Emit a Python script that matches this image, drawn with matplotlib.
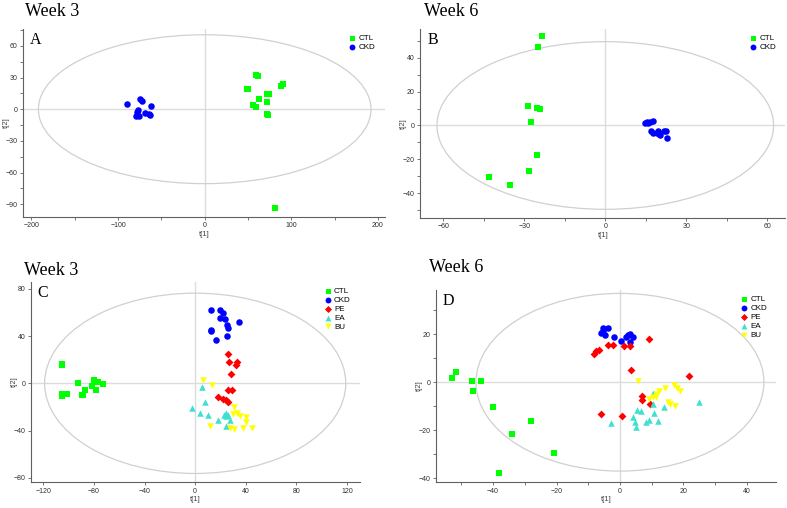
import numpy as np
import matplotlib.pyplot as plt
from matplotlib.patches import Ellipse
from matplotlib.ticker import MultipleLocator

plt.rcParams['font.family'] = ['Liberation Sans', 'DejaVu Sans']

# Score values
# Panel A: week 3, CTL vs CKD
a_ctl_x = [59.8, 61.0, 50.2, 49.0, 62.2, 56.0, 59.0, 72.2, 73.7, 71.4, 71.4, 72.6, 88.0, 90.0, 81.5]
a_ctl_y = [32.2, 31.3, 19.6, 19.3, 9.5, 4.4, 2.2, 14.2, 14.2, 6.9, -4.7, -5.7, 22.4, 23.7, -93.5]
a_ckd_x = [-89.6, -74.5, -72.2, -61.8, -76.8, -77.6, -79.2, -75.3, -68.7, -62.9, -64.5]
a_ckd_y = [4.7, 9.2, 7.9, 2.8, -0.3, -2.8, -6.0, -6.9, -3.5, -5.4, -5.0]

# Panel B: week 6, CTL vs CKD
b_ctl_x = [-23.5, -24.9, -28.6, -25.2, -24.2, -27.4, -25.3, -28.4, -43.1, -35.4]
b_ctl_y = [52.6, 46.3, 11.4, 10.2, 9.7, 1.8, -17.7, -26.6, -30.3, -34.9]
b_ckd_x = [14.7, 15.6, 16.6, 17.6, 16.0, 16.9, 17.6, 19.7, 20.0, 20.3, 21.8, 22.5, 22.8, 19.0]
b_ckd_y = [1.6, 2.0, 2.2, 2.8, 1.2, -3.3, -4.3, -3.3, -5.1, -5.9, -3.2, -3.5, -7.3, -4.3]

# Panel C: week 3, five groups
c_ctl_x = [-105.2, -105.0, -92.3, -79.9, -76.5, -72.6, -81.8, -78.6, -87.0, -88.3, -105.2, -101.5, -105.6, -89.6]
c_ctl_y = [16.4, 15.6, 0.3, 2.8, 1.1, -0.8, -2.5, -5.9, -5.4, -9.9, -9.0, -9.3, -10.4, -10.2]
c_ckd_x = [12.4, 19.7, 21.6, 20.0, 23.4, 25.0, 26.3, 35.0, 12.6, 12.6, 16.8, 25.0]
c_ckd_y = [61.8, 62.4, 59.6, 55.1, 54.5, 49.7, 46.9, 51.9, 45.5, 44.0, 37.0, 39.8]
c_pe_x = [26.3, 26.8, 33.1, 32.6, 28.1, 26.3, 29.4, 18.4, 21.6, 24.2, 26.0]
c_pe_y = [25.1, 18.1, 17.8, 15.5, 7.6, -5.6, -5.6, -11.3, -13.0, -14.4, -16.1]
c_ea_x = [5.0, -2.4, 3.9, 7.6, 10.3, 18.1, 24.7, 26.0, 24.2, 27.3, 24.7, 22.6]
c_ea_y = [-2.8, -20.6, -24.8, -15.5, -27.1, -30.8, -25.1, -26.5, -27.7, -31.3, -36.4, -26.5]
c_bu_x = [6.3, 13.1, 11.6, 31.0, 30.0, 33.1, 35.8, 40.5, 40.5, 27.9, 30.8, 37.8, 44.7]
c_bu_y = [2.5, -1.4, -36.4, -20.3, -25.7, -25.1, -27.9, -28.5, -32.7, -38.1, -38.4, -38.1, -38.1]

# Panel D: week 6, five groups
d_ctl_x = [-53.1, -51.7, -46.7, -43.8, -46.4, -40.0, -33.9, -28.2, -20.7, -38.0]
d_ctl_y = [1.8, 4.4, 0.7, 0.4, -3.6, -10.2, -21.5, -16.0, -29.7, -38.0]
d_ckd_x = [-5.5, -3.9, -6.0, -4.6, -1.9, 0.3, 2.4, 3.2, 4.0, 3.2, -5.5, 1.9]
d_ckd_y = [22.6, 22.6, 20.5, 19.8, 19.1, 17.3, 19.8, 20.2, 19.1, 16.8, 21.5, 19.1]
d_pe_x = [9.3, -8.1, -7.4, -6.7, -3.7, -2.3, 1.2, 3.2, 3.4, 21.7, 6.9, 6.9, 9.6, -6.1, 0.8]
d_pe_y = [18.0, 12.0, 12.9, 13.3, 15.5, 15.7, 15.3, 15.0, 5.0, 2.5, -5.9, -7.3, -9.2, -13.1, -14.2]
d_ea_x = [-2.8, 4.0, 4.8, 5.0, 5.5, 6.6, 8.2, 9.3, 10.8, 11.9, 10.3, 10.3, 14.0, 25.0]
d_ea_y = [-16.9, -14.6, -16.7, -18.7, -11.4, -11.8, -16.7, -15.6, -12.9, -16.2, -4.3, -9.1, -10.2, -8.1]
d_bu_x = [5.8, 9.3, 10.5, 11.4, 12.2, 14.1, 17.1, 17.9, 18.8, 15.1, 15.8, 17.5, 11.4]
d_bu_y = [0.7, -7.2, -6.3, -6.3, -3.6, -2.2, -1.1, -2.2, -3.6, -8.4, -9.1, -10.0, -5.0]

colors = {'CTL': '#00ff00', 'CKD': '#0000ff', 'PE': '#ff0000', 'EA': '#40e0d0', 'BU': '#ffff00'}
markers = {'CTL': 's', 'CKD': 'o', 'PE': 'D', 'EA': '^', 'BU': 'v'}

panels = [
    dict(letter='A', week='Week 3', rect=[0.029, 0.573, 0.46, 0.37],
         xlim=(-210, 208), ylim=(-102, 76), xmaj=100, ymaj=30, minor=True, ell=(192, 70.5),
         xlabel='t[1]', data={'CTL': (a_ctl_x, a_ctl_y), 'CKD': (a_ckd_x, a_ckd_y)},
         week_pos=(25, 16)),
    dict(letter='B', week='Week 6', rect=[0.534, 0.571, 0.464, 0.372],
         xlim=(-68.6, 66.8), ylim=(-54.6, 57), xmaj=30, ymaj=20, minor=True, ell=(62.4, 49.5),
         xlabel='t[1]', data={'CTL': (b_ctl_x, b_ctl_y), 'CKD': (b_ckd_x, b_ckd_y)},
         week_pos=(424, 16)),
    dict(letter='C', week='Week 3', rect=[0.039, 0.051, 0.418, 0.394],
         xlim=(-130, 130), ylim=(-83.6, 85.8), xmaj=40, ymaj=40, minor=False, ell=(119, 76.3),
         xlabel='t[1]', data={'CTL': (c_ctl_x, c_ctl_y), 'CKD': (c_ckd_x, c_ckd_y),
                              'PE': (c_pe_x, c_pe_y), 'EA': (c_ea_x, c_ea_y),
                              'BU': (c_bu_x, c_bu_y)},
         week_pos=(24, 275)),
    dict(letter='D', week='Week 6', rect=[0.554, 0.051, 0.432, 0.378],
         xlim=(-58, 49.2), ylim=(-41.7, 38.5), xmaj=20, ymaj=20, minor=True, ell=(45.4, 37.1),
         xlabel='t[1]', data={'CTL': (d_ctl_x, d_ctl_y), 'CKD': (d_ckd_x, d_ckd_y),
                              'PE': (d_pe_x, d_pe_y), 'EA': (d_ea_x, d_ea_y),
                              'BU': (d_bu_x, d_bu_y)},
         week_pos=(429, 272)),
]

W, H = 787, 508
fig = plt.figure(figsize=(W / 100, H / 100), dpi=100)

for p in panels:
    ax = fig.add_axes(p['rect'])
    ax.set_xlim(p['xlim'])
    ax.set_ylim(p['ylim'])

    # crosshair at the origin and Hotelling ellipse
    ax.axhline(0, color='#dcdcdc', lw=1.0, zorder=1)
    ax.axvline(0, color='#dcdcdc', lw=1.0, zorder=1)
    ax.add_patch(Ellipse((0, 0), 2 * p['ell'][0], 2 * p['ell'][1], fill=False,
                         ec='#d0d0d0', lw=0.9, zorder=1))

    for g, (xs, ys) in p['data'].items():
        ms = 16 if markers[g] in ('s', 'D') else 22
        ax.scatter(xs, ys, s=ms, marker=markers[g], color=colors[g], lw=0,
                   label=g, zorder=3)

    for s in ['top', 'right']:
        ax.spines[s].set_visible(False)
    for s in ['left', 'bottom']:
        ax.spines[s].set_color('#606060')
        ax.spines[s].set_linewidth(0.8)

    ax.xaxis.set_major_locator(MultipleLocator(p['xmaj']))
    ax.yaxis.set_major_locator(MultipleLocator(p['ymaj']))
    if p['minor']:
        ax.xaxis.set_minor_locator(MultipleLocator(p['xmaj'] / 2))
        ax.yaxis.set_minor_locator(MultipleLocator(p['ymaj'] / 2))
    ax.tick_params(which='both', direction='out', colors='#606060', labelcolor='#303030',
                   labelsize=5, width=0.6, pad=1.5)
    ax.tick_params(which='major', length=2.5)
    ax.tick_params(which='minor', length=2)

    ax.set_xlabel(p['xlabel'], fontsize=5.5, color='#404040', labelpad=1)
    ax.set_ylabel('t[2]', fontsize=5.5, color='#404040')
    # y label sits a little left of the tick labels, as in the reference
    ax.yaxis.set_label_coords(-13 / (p['rect'][2] * W), 0.5)

    ax.text(0.02, 0.985, p['letter'], transform=ax.transAxes, fontsize=11.5,
            family='Liberation Serif', va='top', ha='left')

    ax.legend(loc='upper right', bbox_to_anchor=(0.99, 1.0), frameon=False, fontsize=5.8,
              handletextpad=0.3, labelspacing=0.15, borderaxespad=0.3, scatterpoints=1,
              markerscale=0.9, handlelength=1.0)

    fig.text(p['week_pos'][0] / W, 1 - p['week_pos'][1] / H, p['week'],
             fontsize=13, family='Liberation Serif', ha='left', va='baseline')

fig.savefig('out.png', dpi=100)
